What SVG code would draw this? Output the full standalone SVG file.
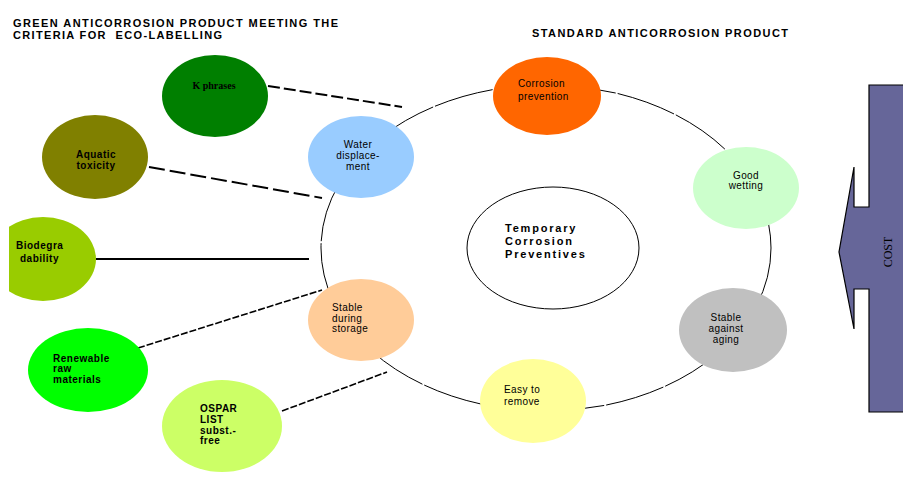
<svg xmlns="http://www.w3.org/2000/svg" width="903" height="481" viewBox="0 0 903 481">
<style>
.title{font-family:"Liberation Sans",Arial,sans-serif;font-weight:bold;font-size:11px;fill:#000}
.lbl{font-family:"Liberation Sans",Arial,sans-serif;font-size:10px;fill:#000;letter-spacing:0.4px}
.blbl{font-family:"Liberation Sans",Arial,sans-serif;font-size:10px;font-weight:bold;fill:#000;letter-spacing:0.5px}
.conn{fill:none;stroke:#000;stroke-width:2}
.thin{fill:none;stroke:#000;stroke-width:1.6;stroke-dasharray:7 2}
</style>
<defs>
<clipPath id="clipL"><rect x="9" y="0" width="200" height="481"/></clipPath>
</defs>
<rect width="903" height="481" fill="#fff"/>
<text class="title" x="13" y="27" textLength="325">GREEN ANTICORROSION PRODUCT MEETING THE</text>
<text class="title" x="13" y="39" textLength="209" xml:space="preserve">CRITERIA FOR  ECO-LABELLING</text>
<text class="title" x="532" y="37" textLength="256">STANDARD ANTICORROSION PRODUCT</text>

<g id="connectors">
<ellipse cx="546" cy="248" rx="225" ry="163" fill="none" stroke="#000" stroke-width="1" stroke-dasharray="60 2"/>
<line class="conn" x1="268" y1="86" x2="402" y2="107" stroke-dasharray="12 4"/>
<line class="conn" x1="149" y1="167" x2="322" y2="198" stroke-dasharray="16 5"/>
<line class="conn" x1="96" y1="259" x2="309" y2="259"/>
<line class="thin" x1="138" y1="348" x2="322" y2="290"/>
<line class="thin" x1="282" y1="411" x2="387" y2="372"/>
</g>

<g id="center">
<ellipse cx="553" cy="248" rx="86" ry="61" fill="#fff" stroke="#000" stroke-width="1"/>
<text x="505" y="232" font-family="Liberation Sans, Arial, sans-serif" font-size="11" font-weight="bold" letter-spacing="1.8">Temporary</text>
<text x="505" y="245" font-family="Liberation Sans, Arial, sans-serif" font-size="11" font-weight="bold" letter-spacing="1.8">Corrosion</text>
<text x="505" y="258" font-family="Liberation Sans, Arial, sans-serif" font-size="11" font-weight="bold" letter-spacing="1.8">Preventives</text>
</g>

<g id="k-phrases">
<ellipse cx="215" cy="96" rx="53" ry="41" fill="#007F00"/>
<text x="214" y="89" text-anchor="middle" font-family="Liberation Serif, Times New Roman, serif" font-size="10" font-weight="bold">K phrases</text>
</g>
<g id="aquatic">
<ellipse cx="95" cy="157" rx="53" ry="42" fill="#808000"/>
<text class="blbl" x="96" y="158" text-anchor="middle">Aquatic</text>
<text class="blbl" x="96" y="169" text-anchor="middle">toxicity</text>
</g>
<g id="biodegra">
<ellipse cx="43" cy="259" rx="53" ry="42" fill="#99CC00" clip-path="url(#clipL)"/>
<text class="blbl" x="16" y="249">Biodegra</text>
<text class="blbl" x="20" y="262">dability</text>
</g>
<g id="renewable">
<ellipse cx="88" cy="370" rx="60" ry="42" fill="#00FF00"/>
<text class="blbl" x="53" y="362">Renewable</text>
<text class="blbl" x="53" y="372">raw</text>
<text class="blbl" x="53" y="383">materials</text>
</g>
<g id="ospar">
<ellipse cx="222" cy="426" rx="60" ry="46" fill="#CCFF66"/>
<text class="blbl" x="200" y="412">OSPAR</text>
<text class="blbl" x="200" y="423">LIST</text>
<text class="blbl" x="200" y="434">subst.-</text>
<text class="blbl" x="200" y="444">free</text>
</g>
<g id="water">
<ellipse cx="361" cy="157" rx="53" ry="41" fill="#99CCFF"/>
<text class="lbl" x="358" y="148" text-anchor="middle">Water</text>
<text class="lbl" x="358" y="159" text-anchor="middle">displace-</text>
<text class="lbl" x="358" y="170" text-anchor="middle">ment</text>
</g>
<g id="stable-storage">
<ellipse cx="361" cy="320" rx="53" ry="41" fill="#FFCC99"/>
<text class="lbl" x="332" y="311">Stable</text>
<text class="lbl" x="332" y="322">during</text>
<text class="lbl" x="332" y="332">storage</text>
</g>
<g id="corrosion-prevention">
<ellipse cx="547" cy="96" rx="54" ry="39" fill="#FF6600"/>
<text class="lbl" x="518" y="87">Corrosion</text>
<text class="lbl" x="518" y="100">prevention</text>
</g>
<g id="good-wetting">
<ellipse cx="746" cy="188" rx="53" ry="41" fill="#CCFFCC"/>
<text class="lbl" x="746" y="179" text-anchor="middle">Good</text>
<text class="lbl" x="746" y="189" text-anchor="middle">wetting</text>
</g>
<g id="stable-aging">
<ellipse cx="733" cy="330" rx="54" ry="42" fill="#C0C0C0"/>
<text class="lbl" x="726" y="321" text-anchor="middle">Stable</text>
<text class="lbl" x="726" y="332" text-anchor="middle">against</text>
<text class="lbl" x="726" y="343" text-anchor="middle">aging</text>
</g>
<g id="easy-remove">
<ellipse cx="533" cy="401" rx="53" ry="42" fill="#FFFF99"/>
<text class="lbl" x="504" y="393">Easy to</text>
<text class="lbl" x="504" y="405">remove</text>
</g>

<g id="cost">
<polygon points="905,85 869,85 869,207 854,207 854,167 839,252 854,329 854,289 869,289 869,412 905,412" fill="#666699" stroke="#000" stroke-width="1.2"/>
<text transform="translate(892,252) rotate(-90)" text-anchor="middle" font-family="Liberation Serif, Times New Roman, serif" font-size="12" fill="#000">COST</text>
</g>
</svg>
